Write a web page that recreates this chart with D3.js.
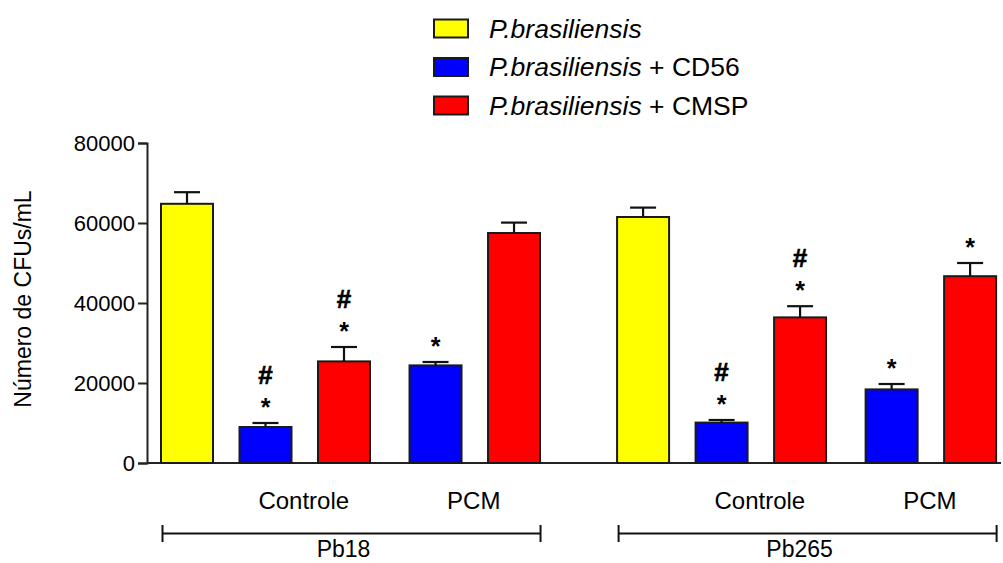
<!DOCTYPE html>
<html>
<head>
<meta charset="utf-8">
<script src="https://cdn.jsdelivr.net/npm/d3@7"></script>
<style>
  html, body { margin: 0; padding: 0; background: #fff; }
  svg { display: block; font-family: "Liberation Sans", Arial, sans-serif; }
</style>
</head>
<body>
<svg id="chart" width="1003" height="563"></svg>
<script>
// ---------- data ----------
const strains = ["Pb18", "Pb265"];
const subgroups = ["", "Controle", "Controle", "PCM", "PCM"];
const seriesNames = ["P.brasiliensis", "P.brasiliensis + CD56", "P.brasiliensis + CMSP"];
const seriesOfBar = [0, 1, 2, 1, 2];
const meanPb18 = [64800, 9000, 25400, 24400, 57500];
const semPb18 = [2900, 1000, 3600, 850, 2600];
const meanPb265 = [61500, 10100, 36400, 18400, 46700];
const semPb265 = [2350, 650, 2800, 1350, 3300];
const marksPb18 = ["", "*#", "*#", "*", ""];
const marksPb265 = ["", "*#", "*#", "*", "*"];
const yTicks = [0, 20000, 40000, 60000, 80000];
const yTitle = "Número de CFUs/mL";

const colors = ["#FFFF00", "#0000FF", "#FF0000"];

// ---------- build bar table ----------
const means = [meanPb18, meanPb265];
const sems = [semPb18, semPb265];
const marks = [marksPb18, marksPb265];
const bars = [];
strains.forEach((s, si) => {
  subgroups.forEach((g, i) => {
    bars.push({ strain: s, si, i, group: g, series: seriesOfBar[i],
      mean: means[si][i], sem: sems[si][i], mark: marks[si][i] });
  });
});

// ---------- scales ----------
const svg = d3.select("#chart");
const y = d3.scaleLinear().domain([0, 80000]).range([463, 143]);
const slot = d3.scaleLinear().domain([0, 1]).range([161, 239.5]);
const strainSpan = 5.81, groupGap = 0.166, barW = 52;
const slotOf = (si, i) => si * strainSpan + i + (i >= 3 ? groupGap : 0);
const xLeft = d => slot(slotOf(d.si, d.i));
const xMid = d => xLeft(d) + barW / 2;

// ---------- y axis ----------
const axisX = 147;
const yAxis = d3.axisLeft(y).tickValues(yTicks).tickFormat(d3.format("d")).tickSize(9).tickPadding(3);
const gy = svg.append("g").attr("transform", `translate(${axisX},0)`).call(yAxis);
gy.select(".domain").attr("stroke", "#222").attr("stroke-width", 2);
gy.selectAll(".tick line").attr("stroke", "#222").attr("stroke-width", 2);
gy.selectAll(".tick text").attr("font-size", 22).attr("fill", "#000")
  .attr("font-family", "Liberation Sans, Arial, sans-serif");

svg.append("text")
  .attr("transform", `translate(31,299) rotate(-90)`)
  .attr("text-anchor", "middle")
  .attr("font-size", 23)
  .text(yTitle);

// x baseline
svg.append("line").attr("x1", axisX).attr("x2", 1001)
  .attr("y1", y(0)).attr("y2", y(0)).attr("stroke", "#222").attr("stroke-width", 2);

// ---------- bars ----------
svg.append("g").selectAll("rect").data(bars).join("rect")
  .attr("x", d => xLeft(d))
  .attr("y", d => y(d.mean))
  .attr("width", barW)
  .attr("height", d => y(0) - y(d.mean))
  .attr("fill", d => colors[d.series])
  .attr("stroke", "#1a1a1a")
  .attr("stroke-width", 2);

// error bars (upper only)
const eb = svg.append("g").attr("stroke", "#111").attr("stroke-width", 2.2);
bars.forEach(d => {
  eb.append("line").attr("x1", xMid(d)).attr("x2", xMid(d))
    .attr("y1", y(d.mean)).attr("y2", y(d.mean + d.sem));
  eb.append("line").attr("x1", xMid(d) - 13).attr("x2", xMid(d) + 13)
    .attr("y1", y(d.mean + d.sem)).attr("y2", y(d.mean + d.sem));
});

// significance marks
bars.forEach(d => {
  const top = y(d.mean + d.sem);
  if (d.mark.includes("*")) {
    svg.append("text").attr("x", xMid(d)).attr("y", top - 21 + 14)
      .attr("text-anchor", "middle").attr("font-size", 25).attr("font-weight", "bold").text("*");
  }
  if (d.mark.includes("#")) {
    svg.append("text").attr("x", xMid(d)).attr("y", top - 48 + 9)
      .attr("text-anchor", "middle").attr("font-size", 26).attr("font-weight", "bold")
      .attr("stroke", "#000").attr("stroke-width", 0.6).text("#");
  }
});

// ---------- group labels ----------
strains.forEach((s, si) => {
  ["Controle", "PCM"].forEach(g => {
    const gb = bars.filter(b => b.si === si && b.group === g);
    const cx = (xMid(gb[0]) + xMid(gb[gb.length - 1])) / 2;
    svg.append("text").attr("x", cx - 1).attr("y", 508.5)
      .attr("text-anchor", "middle").attr("font-size", 24).text(g);
  });
  const sb = bars.filter(b => b.si === si);
  const x1 = xLeft(sb[0]) + 1.5, x2 = xLeft(sb[sb.length - 1]) + barW + 0.5;
  const by = 533.5;
  const br = svg.append("g").attr("stroke", "#111").attr("stroke-width", 2);
  br.append("line").attr("x1", x1).attr("x2", x2).attr("y1", by).attr("y2", by);
  br.append("line").attr("x1", x1).attr("x2", x1).attr("y1", by - 8.5).attr("y2", by + 8.5);
  br.append("line").attr("x1", x2).attr("x2", x2).attr("y1", by - 8.5).attr("y2", by + 8.5);
  svg.append("text").attr("x", (x1 + x2) / 2 - 8).attr("y", 557)
    .attr("text-anchor", "middle").attr("font-size", 23).text(s);
});

// ---------- legend ----------
const lg = svg.append("g");
seriesNames.forEach((name, k) => {
  const cy = 28.5 + k * 38.5;
  lg.append("rect").attr("x", 434).attr("y", cy - 9).attr("width", 34).attr("height", 18)
    .attr("fill", colors[k]).attr("stroke", "#1a1a1a").attr("stroke-width", 2);
  const t = lg.append("text").attr("x", 489).attr("y", cy + 9).attr("font-size", 26.5);
  const parts = name.split(" + ");
  t.append("tspan").attr("font-style", "italic").text(parts[0]);
  if (parts[1]) t.append("tspan").text(" + " + parts[1]);
});
</script>
</body>
</html>
